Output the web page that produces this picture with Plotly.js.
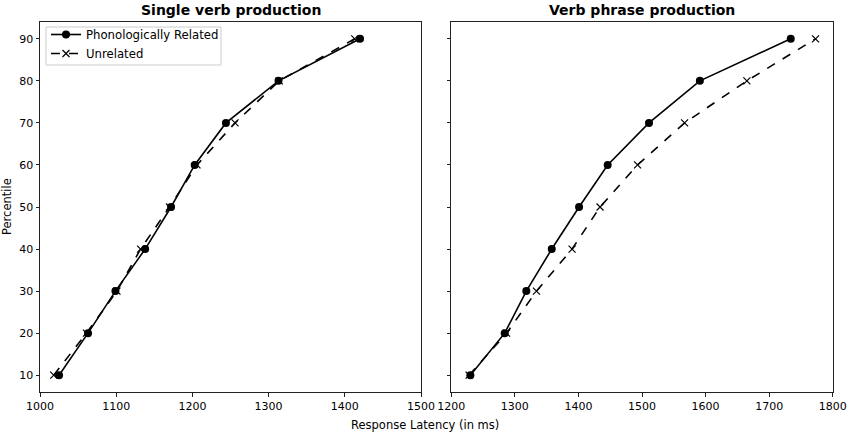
<!DOCTYPE html>
<html>
<head>
<meta charset="utf-8">
<script src="https://cdn.plot.ly/plotly-3.0.1.min.js"></script>
<style>
  html, body { margin: 0; padding: 0; background: #fff; }
  #chart { width: 851px; height: 433px; }
</style>
</head>
<body>
<div id="chart"></div>
<script>
// percentiles shared by both panels
const percentiles = [10, 20, 30, 40, 50, 60, 70, 80, 90];

// single verb production (ms)
const singleRelated   = [1025, 1063, 1099, 1138, 1172, 1203, 1244, 1313, 1420];
const singleUnrelated = [1018, 1061, 1101, 1132, 1170, 1206, 1256, 1314, 1413];

// verb phrase production (ms)
const phraseRelated   = [1230, 1284, 1318, 1358, 1401, 1446, 1511, 1591, 1734];
const phraseUnrelated = [1228, 1287, 1334, 1390, 1434, 1493, 1567, 1665, 1773];

const FONT = "DejaVu Sans, sans-serif";

function related(x, xa, ya, legend) {
  return {
    x: x, y: percentiles, xaxis: xa, yaxis: ya,
    type: "scatter", mode: "lines+markers",
    name: "Phonologically Related", showlegend: legend,
    line: { color: "black", width: 1.6 },
    marker: { symbol: "circle", size: 8, color: "black" }
  };
}

function unrelated(x, xa, ya, legend) {
  return {
    x: x, y: percentiles, xaxis: xa, yaxis: ya,
    type: "scatter", mode: "lines+markers",
    name: "Unrelated", showlegend: legend,
    line: { color: "black", width: 1.6, dash: "dash" },
    marker: { symbol: "x-thin", size: 7, line: { color: "black", width: 1.2 } }
  };
}

const data = [
  related(singleRelated, "x", "y", true),
  unrelated(singleUnrelated, "x", "y", true),
  related(phraseRelated, "x2", "y2", false),
  unrelated(phraseUnrelated, "x2", "y2", false)
];

const axisStyle = {
  showline: true, mirror: true, linecolor: "#222", linewidth: 1,
  ticks: "outside", ticklen: 3.5, tickwidth: 1, tickcolor: "#222",
  showgrid: false, zeroline: false,
  tickfont: { family: FONT, size: 11, color: "black" }
};

const layout = {
  width: 851, height: 433,
  margin: { l: 0, r: 0, t: 0, b: 0 },
  paper_bgcolor: "white", plot_bgcolor: "white",
  font: { family: FONT, color: "black" },
  xaxis: Object.assign({}, axisStyle, {
    domain: [40 / 851, 421 / 851], range: [1000, 1500], dtick: 100
  }),
  yaxis: Object.assign({}, axisStyle, {
    domain: [1 - 392 / 433, 1 - 22 / 433], range: [6, 94], dtick: 10
  }),
  xaxis2: Object.assign({}, axisStyle, {
    domain: [451.3 / 851, 832.7 / 851], range: [1200, 1800], dtick: 100, anchor: "y2"
  }),
  yaxis2: Object.assign({}, axisStyle, {
    domain: [1 - 392 / 433, 1 - 22 / 433], range: [6, 94], dtick: 10,
    anchor: "x2", showticklabels: false
  }),
  showlegend: true,
  // legend box is drawn as a shape so the rows can sit tighter inside it
  legend: {
    x: 46 / 851, y: 1 - 20 / 433, xanchor: "left", yanchor: "top",
    bgcolor: "rgba(0,0,0,0)", borderwidth: 0,
    font: { family: FONT, size: 11.7, color: "black" },
    tracegroupgap: 0, itemwidth: 30
  },
  shapes: [
    {
      type: "rect", xref: "paper", yref: "paper", layer: "below",
      x0: 46 / 851, x1: 221 / 851, y0: 1 - 65 / 433, y1: 1 - 27 / 433,
      fillcolor: "white", line: { color: "#cccccc", width: 1 }
    }
  ],
  annotations: [
    {
      text: "<b>Single verb production</b>", xref: "paper", yref: "paper",
      x: (40 + 421) / 2 / 851, y: 1 - 10 / 433, xanchor: "center", yanchor: "middle",
      showarrow: false, font: { family: FONT, size: 14, color: "black" }
    },
    {
      text: "<b>Verb phrase production</b>", xref: "paper", yref: "paper",
      x: (451.3 + 832.7) / 2 / 851, y: 1 - 10 / 433, xanchor: "center", yanchor: "middle",
      showarrow: false, font: { family: FONT, size: 14, color: "black" }
    },
    {
      text: "Response Latency (in ms)", xref: "paper", yref: "paper",
      x: 425 / 851, y: 1 - 425 / 433, xanchor: "center", yanchor: "middle",
      showarrow: false, font: { family: FONT, size: 11.5, color: "black" }
    },
    {
      text: "Percentile", xref: "paper", yref: "paper",
      x: 7 / 851, y: 1 - 207 / 433, xanchor: "center", yanchor: "middle",
      textangle: -90, showarrow: false, font: { family: FONT, size: 11.5, color: "black" }
    }
  ]
};

Plotly.newPlot("chart", data, layout, { staticPlot: true });
</script>
</body>
</html>
